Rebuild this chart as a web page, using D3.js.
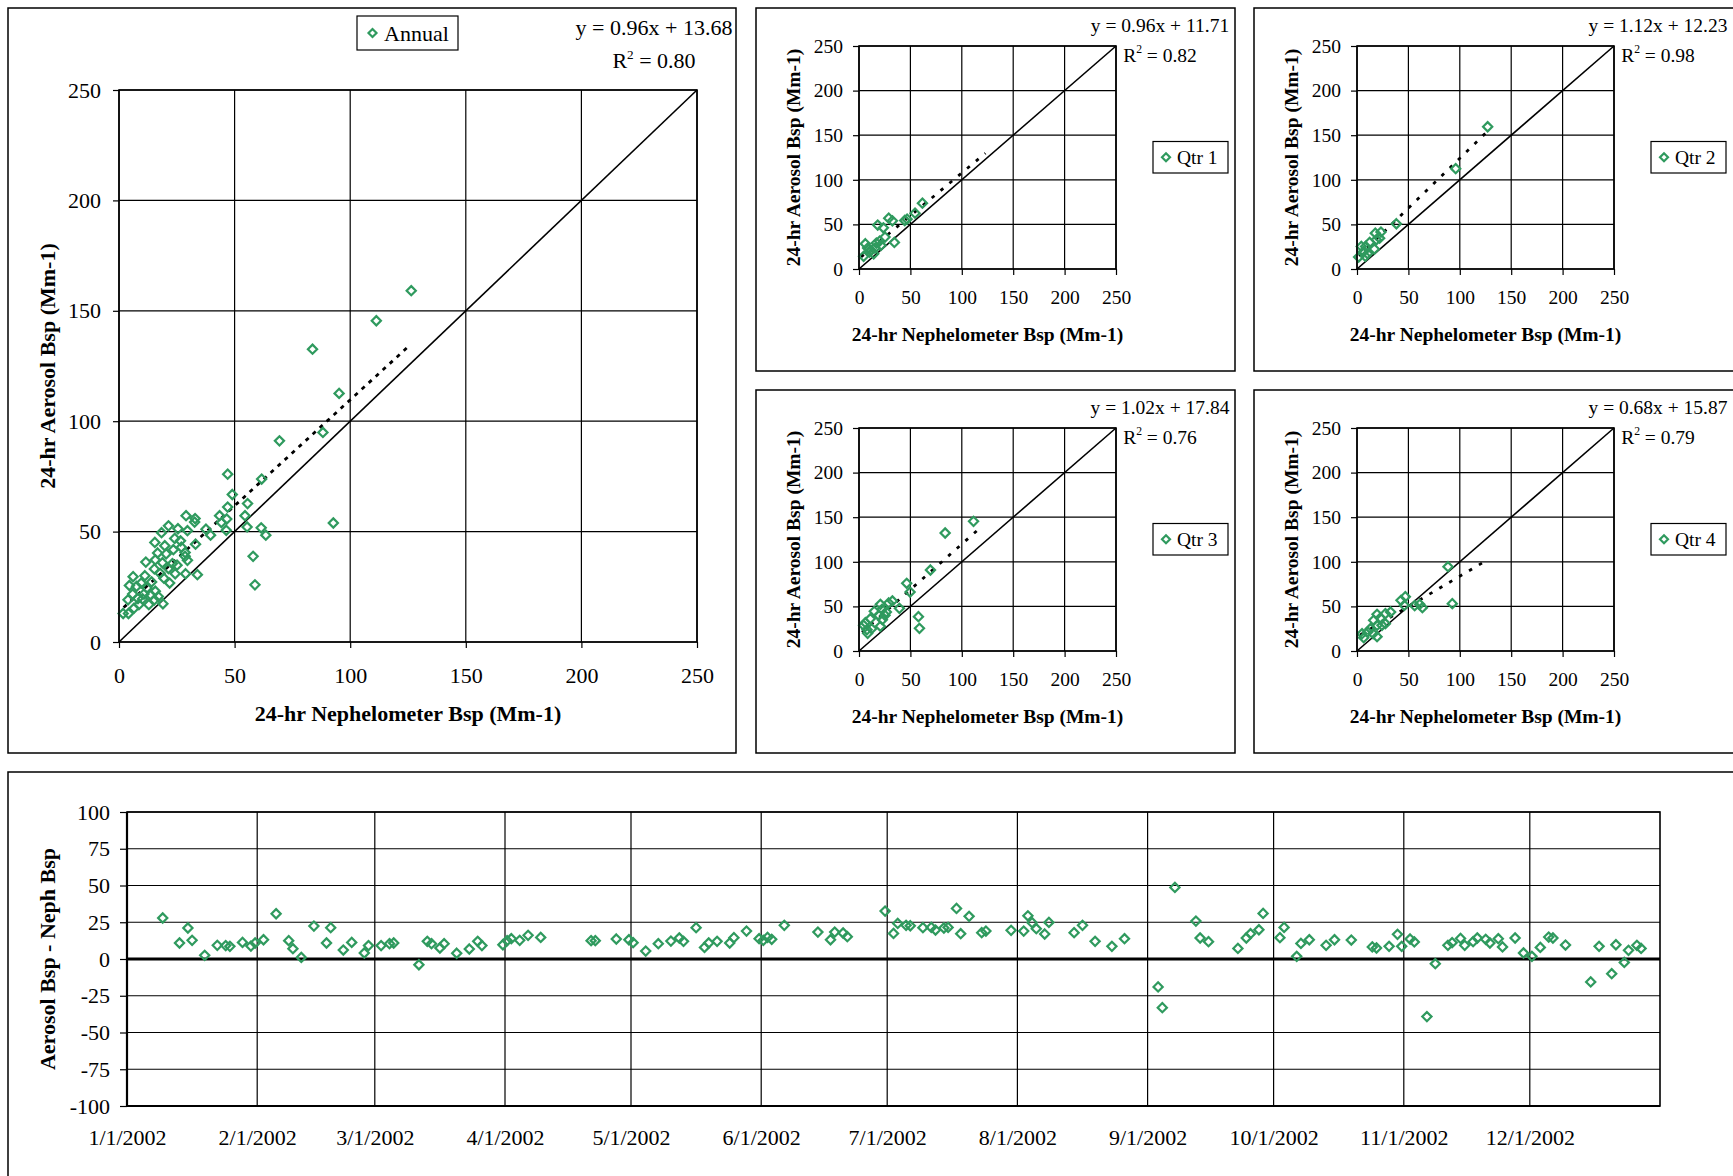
<!DOCTYPE html>
<html>
<head>
<meta charset="utf-8">
<script src="https://cdn.jsdelivr.net/npm/d3@7"></script>
<style>
  body { margin: 0; background: #fff; }
  svg { display: block; font-family: "Liberation Serif", "Times New Roman", serif; }
</style>
</head>
<body>
<div id="chart"></div>
<script>
// ---- data ----
var annualNeph = [126.4,111.3,83.7,95.2,88.2,69.4,92.7,47.0,61.7,49.0,55.6,47.0,43.5,54.5,46.6,44.3,55.4,61.5,46.4,63.5,58.0,58.8,37.6,39.6,29.0,32.9,32.7,29.6,33.1,33.9,28.8,29.6,28.6,25.5,21.4,18.4,15.5,26.6,24.1,27.0,23.5,19.8,16.7,20.4,25.1,24.3,21.9,18.8,15.7,11.6,11.2,15.3,17.8,19.0,14.1,12.1,9.6,7.6,6.1,4.5,3.9,1.8,4.1,6.5,8.6,10.2,12.9,13.7,15.7,17.0,15.3,10.8,5.9,8.2,19.4,21.4,23.1,28.6];
var annualAero = [159.1,145.5,132.6,112.6,94.9,91.1,53.9,76.0,73.8,66.8,62.7,61.1,57.2,57.2,55.7,54.1,52.1,51.7,50.6,48.4,38.8,25.9,51.1,48.4,57.2,55.9,54.3,50.4,44.3,30.5,30.9,37.0,38.8,51.3,52.6,49.5,45.1,45.8,46.9,42.9,41.8,43.6,40.3,39.9,34.8,30.9,26.7,35.9,37.2,36.2,30.0,33.1,31.1,17.3,27.2,24.5,26.7,25.2,29.6,25.6,19.1,12.9,12.9,15.3,16.9,19.5,16.9,21.3,23.0,20.6,19.1,21.7,21.7,19.7,28.9,33.3,35.5,40.5];

var q1Neph = [61.7,54.5,44.5,46.8,28.9,32.5,18.2,23.7,25.3,34.4,20.1,16.9,21.4,6.2,8.4,11.7,14.3,4.5,10.1,15.6];
var q1Aero = [73.8,62.6,54.4,55.9,57.0,54.0,49.2,46.2,35.8,29.8,31.3,29.1,26.5,28.3,23.5,20.9,17.1,14.2,19.0,23.5];
var q2Neph = [127.1,96.0,38.3,23.3,17.8,22.0,18.8,12.3,16.9,8.4,4.2,6.5,1.6,8.1,10.4];
var q2Aero = [159.5,112.5,50.7,41.4,40.2,34.6,32.8,29.8,22.4,25.3,25.3,19.7,13.4,14.2,17.1];
var q3Neph = [111.4,83.8,69.5,46.4,49.7,32.5,28.9,39.3,57.8,58.8,20.8,14.9,22.4,26.6,25.3,19.2,22.7,11.0,20.8,4.5,7.8,12.3,8.4,6.2];
var q3Aero = [145.4,132.3,90.8,75.9,66.1,56.1,53.8,47.8,38.5,25.4,52.3,44.5,46.7,43.7,40.0,40.0,35.1,36.2,27.7,28.8,23.9,25.0,19.8,31.8];
var q4Neph = [88.5,92.7,63.6,61.0,56.1,47.0,42.8,46.0,32.7,27.6,19.5,16.2,22.7,27.6,24.3,19.5,13.0,10.4,6.5,4.9,15.6,19.5];
var q4Aero = [94.5,53.1,48.6,52.3,50.8,60.9,56.8,51.2,43.7,41.9,41.1,34.4,37.0,30.6,28.8,16.1,25.0,21.3,14.9,19.4,19.4,28.8];

var seriesNames  = ["Annual", "Qtr 1", "Qtr 2", "Qtr 3", "Qtr 4"];
var fitSlope     = [0.96, 0.96, 1.12, 1.02, 0.68];
var fitIntercept = [13.68, 11.71, 12.23, 17.84, 15.87];
var fitR2        = ["0.80", "0.82", "0.98", "0.76", "0.79"];
var fitXRange    = [[2, 126], [2, 123], [2, 126], [3, 119], [3, 124]];
var scatterTicks = [0, 50, 100, 150, 200, 250];

var diffDates = ["1/9","1/13","1/15","1/16","1/19","1/22","1/24","1/25","1/28","1/30","1/31",
  "2/2","2/5","2/8","2/9","2/11","2/14","2/17","2/18","2/21","2/23","2/26","2/27",
  "3/2","3/4","3/5","3/11","3/13","3/14","3/16","3/17","3/20","3/23","3/25","3/26","3/31",
  "4/1","4/2","4/4","4/6","4/9","4/21","4/22","4/27","4/30",
  "5/1","5/4","5/7","5/10","5/12","5/13","5/16","5/18","5/19","5/21","5/24","5/25","5/28","5/31",
  "6/1","6/2","6/3","6/6","6/14","6/17","6/18","6/20","6/21","6/30",
  "7/2","7/3","7/5","7/6","7/9","7/11","7/12","7/14","7/15","7/17","7/18","7/20","7/23","7/24","7/30",
  "8/2","8/3","8/4","8/5","8/7","8/8","8/14","8/16","8/19","8/23","8/26",
  "9/3","9/4","9/7","9/12","9/13","9/15","9/22","9/24","9/25","9/27","9/28",
  "10/2","10/3","10/6","10/7","10/9","10/13","10/15","10/19","10/24","10/25","10/28","10/30","10/31",
  "11/2","11/3","11/6","11/8","11/11","11/12","11/14","11/15","11/17","11/18","11/20","11/21","11/23","11/24","11/27","11/29",
  "12/1","12/3","12/5","12/6","12/9","12/15","12/17","12/20","12/21","12/23","12/24","12/26","12/27"];
var diffValues = [27.9,10.9,21.1,12.7,2.5,9.3,9.1,8.6,11.3,8.8,10.9,
  13.1,30.8,12.5,7.0,1.1,22.4,10.9,21.3,6.1,11.3,4.1,9.1,
  9.1,10.4,10.9,-3.9,12.0,10.4,7.5,10.4,3.9,6.8,12.0,9.1,9.7,
  12.5,13.8,12.7,16.1,14.7,12.5,12.5,13.6,13.1,
  11.1,5.4,10.4,12.2,14.3,12.0,21.3,7.9,10.9,12.0,10.9,14.5,19.0,13.8,
  12.7,14.7,13.4,22.9,18.3,13.1,18.3,17.7,15.2,32.6,
  17.4,24.2,22.9,22.6,21.3,21.5,19.7,21.1,21.5,34.4,17.2,29.0,17.9,19.0,19.5,
  19.0,29.4,24.7,20.6,17.0,24.9,17.9,22.9,12.0,8.6,13.8,
  -19.0,-33.1,48.7,25.8,14.3,11.8,7.2,14.3,17.2,19.9,31.0,
  14.5,21.5,1.8,10.6,13.1,9.3,13.1,12.9,8.2,7.5,8.6,16.8,8.6,
  13.6,11.6,-39.2,-3.2,9.3,11.1,14.0,9.3,11.8,14.3,13.4,10.9,13.8,8.2,14.3,4.1,
  1.8,7.9,14.9,14.3,9.5,-15.6,8.6,-10.0,9.7,-2.3,5.9,9.3,7.2];
var diffTicks = [100, 75, 50, 25, 0, -25, -50, -75, -100];
var diffYear = 2002;

// ---- setup ----
var width = 1733, height = 1176;
var green = "#2f9a5e";
var markerR = 4.6, markerW = 2.2;

var svg = d3.select("#chart").append("svg")
    .attr("width", width)
    .attr("height", height);

function diamond(r) {
  return "M0," + (-r) + "L" + r + ",0L0," + r + "L" + (-r) + ",0Z";
}

// plain hyphen for negatives, like the original
var plainNum = function (d) { return String(d); };

function styleAxis(sel, fs) {
  sel.attr("font-family", null).attr("font-size", fs + "px");
  sel.select(".domain").remove();
  sel.selectAll(".tick line").attr("stroke", "#000").attr("stroke-width", 1.2);
  sel.selectAll(".tick text").attr("fill", "#000");
}

// one scatter panel: aerosol vs nephelometer
function drawScatter(p, xs, ys, i) {
  var g = svg.append("g");

  g.append("rect")
    .attr("x", p.fx).attr("y", p.fy)
    .attr("width", p.fw).attr("height", p.fh)
    .attr("fill", "none").attr("stroke", "#000").attr("stroke-width", 1.5);

  var x = d3.scaleLinear().domain([0, 250]).range([p.px, p.px + p.pw]);
  var y = d3.scaleLinear().domain([0, 250]).range([p.py + p.ph, p.py]);

  // grid
  g.append("g").selectAll("line").data(scatterTicks).join("line")
    .attr("x1", d => x(d)).attr("x2", d => x(d))
    .attr("y1", p.py).attr("y2", p.py + p.ph)
    .attr("stroke", "#000").attr("stroke-width", 1.2);
  g.append("g").selectAll("line").data(scatterTicks).join("line")
    .attr("y1", d => y(d)).attr("y2", d => y(d))
    .attr("x1", p.px).attr("x2", p.px + p.pw)
    .attr("stroke", "#000").attr("stroke-width", 1.2);

  // axes
  var ax = g.append("g").attr("transform", "translate(0," + (p.py + p.ph) + ")")
    .call(d3.axisBottom(x).tickValues(scatterTicks).tickFormat(plainNum).tickSize(6).tickPadding(p.padX));
  styleAxis(ax, p.fs);
  var ay = g.append("g").attr("transform", "translate(" + p.px + ",0)")
    .call(d3.axisLeft(y).tickValues(scatterTicks).tickFormat(plainNum).tickSize(6).tickPadding(p.padY));
  styleAxis(ay, p.fs);

  // 1:1 line
  g.append("line")
    .attr("x1", x(0)).attr("y1", y(0)).attr("x2", x(250)).attr("y2", y(250))
    .attr("stroke", "#000").attr("stroke-width", 1.6);

  // trend line
  var xr = fitXRange[i];
  g.append("line")
    .attr("x1", x(xr[0])).attr("y1", y(fitSlope[i] * xr[0] + fitIntercept[i]))
    .attr("x2", x(xr[1])).attr("y2", y(fitSlope[i] * xr[1] + fitIntercept[i]))
    .attr("stroke", "#000").attr("stroke-width", 2.8)
    .attr("stroke-dasharray", p.dash);

  // points
  g.append("g").selectAll("path").data(xs).join("path")
    .attr("d", diamond(markerR))
    .attr("transform", (d, k) => "translate(" + x(d) + "," + y(ys[k]) + ")")
    .attr("fill", "none").attr("stroke", green).attr("stroke-width", markerW);

  // plot border
  g.append("rect")
    .attr("x", p.px).attr("y", p.py).attr("width", p.pw).attr("height", p.ph)
    .attr("fill", "none").attr("stroke", "#000").attr("stroke-width", 1.6);

  // axis titles
  g.append("text")
    .attr("x", p.px + p.pw / 2).attr("y", p.xTitleY)
    .attr("text-anchor", "middle").attr("font-weight", "bold")
    .attr("font-size", p.fs + "px")
    .text("24-hr Nephelometer Bsp (Mm-1)");
  g.append("text")
    .attr("transform", "translate(" + p.yTitleX + "," + (p.py + p.ph / 2) + ") rotate(-90)")
    .attr("dy", "0.35em")
    .attr("text-anchor", "middle").attr("font-weight", "bold")
    .attr("font-size", p.fs + "px")
    .text("24-hr Aerosol Bsp (Mm-1)");

  // regression label
  g.append("text")
    .attr("x", p.eqX).attr("y", p.eqY)
    .attr("text-anchor", "middle").attr("font-size", p.fs + "px")
    .text("y = " + fitSlope[i].toFixed(2) + "x + " + fitIntercept[i].toFixed(2));
  var r2 = g.append("text")
    .attr("x", p.eqX).attr("y", p.r2Y)
    .attr("text-anchor", "middle").attr("font-size", p.fs + "px");
  r2.append("tspan").text("R");
  r2.append("tspan").attr("dy", -p.fs * 0.42).attr("font-size", (p.fs * 0.6) + "px").text("2");
  r2.append("tspan").attr("dy", p.fs * 0.42).text(" = " + fitR2[i]);

  // legend
  g.append("rect")
    .attr("x", p.lx).attr("y", p.ly).attr("width", p.lw).attr("height", p.lh)
    .attr("fill", "#fff").attr("stroke", "#000").attr("stroke-width", 1.2);
  g.append("path")
    .attr("d", diamond(markerR - 0.6))
    .attr("transform", "translate(" + (p.lx + p.mdx) + "," + (p.ly + p.lh / 2) + ")")
    .attr("fill", "none").attr("stroke", green).attr("stroke-width", markerW);
  g.append("text")
    .attr("x", p.lx + p.tdx).attr("y", p.ly + p.lh / 2)
    .attr("dy", "0.35em").attr("font-size", p.fs + "px")
    .text(seriesNames[i]);
}

// annual panel
drawScatter({
  fx: 8, fy: 8, fw: 728, fh: 745,
  px: 119, py: 90, pw: 578, ph: 552,
  fs: 22, padX: 19, padY: 12,
  xTitleY: 721, yTitleX: 47,
  eqX: 654, eqY: 35, r2Y: 68,
  lx: 357, ly: 16, lw: 101, lh: 34, mdx: 15.5, tdx: 27,
  dash: "4,5.5"
}, annualNeph, annualAero, 0);

// quarter panels
var qNeph = [q1Neph, q2Neph, q3Neph, q4Neph];
var qAero = [q1Aero, q2Aero, q3Aero, q4Aero];
var qOrigin = [[756, 8], [1254, 8], [756, 390], [1254, 390]];
qOrigin.forEach(function (o, k) {
  var fx = o[0], fy = o[1];
  var px = fx + 103, py = fy + 38, pw = 257, ph = 223;
  drawScatter({
    fx: fx, fy: fy, fw: k % 2 ? 490 : 479, fh: 363,
    px: px, py: py, pw: pw, ph: ph,
    fs: 19.5, padX: 15, padY: 10,
    xTitleY: py + ph + 72, yTitleX: px - 66,
    eqX: px + pw + 44, eqY: fy + 23.7, r2Y: fy + 53.5,
    lx: fx + 397, ly: fy + 133.5, lw: 75, lh: 31.5, mdx: 13, tdx: 24,
    dash: "3.5,8"
  }, qNeph[k], qAero[k], k + 1);
});

// ---- bottom: aerosol - neph time series ----
(function () {
  var px = 127, py = 812, pw = 1533, ph = 294;
  var g = svg.append("g");

  g.append("rect")
    .attr("x", 8).attr("y", 772).attr("width", 1740).attr("height", 420)
    .attr("fill", "none").attr("stroke", "#000").attr("stroke-width", 1.5);

  var parse = d3.timeParse("%m/%d/%Y");
  var dates = diffDates.map(d => parse(d + "/" + diffYear));
  var start = new Date(diffYear, 0, 1), end = new Date(diffYear + 1, 0, 1);

  var x = d3.scaleTime().domain([start, end]).range([px, px + pw]);
  var y = d3.scaleLinear().domain([-100, 100]).range([py + ph, py]);
  var months = d3.timeMonth.range(start, end);

  g.append("g").selectAll("line").data(months).join("line")
    .attr("x1", d => x(d)).attr("x2", d => x(d))
    .attr("y1", py).attr("y2", py + ph)
    .attr("stroke", "#000").attr("stroke-width", 1.2);
  g.append("g").selectAll("line").data(diffTicks).join("line")
    .attr("y1", d => y(d)).attr("y2", d => y(d))
    .attr("x1", px).attr("x2", px + pw)
    .attr("stroke", "#000").attr("stroke-width", 1.2);

  var ax = g.append("g").attr("transform", "translate(0," + (py + ph) + ")")
    .call(d3.axisBottom(x).tickValues(months).tickFormat(d3.timeFormat("%-m/%-d/%Y"))
      .tickSize(0).tickPadding(23));
  styleAxis(ax, 22);
  var ay = g.append("g").attr("transform", "translate(" + px + ",0)")
    .call(d3.axisLeft(y).tickValues(diffTicks).tickFormat(plainNum).tickSize(7).tickPadding(10));
  styleAxis(ay, 22);

  // border, thicker axis lines and zero line
  g.append("rect")
    .attr("x", px).attr("y", py).attr("width", pw).attr("height", ph)
    .attr("fill", "none").attr("stroke", "#000").attr("stroke-width", 1.6);
  g.append("line")
    .attr("x1", px).attr("x2", px).attr("y1", py).attr("y2", py + ph)
    .attr("stroke", "#000").attr("stroke-width", 2.2);
  g.append("line")
    .attr("x1", px).attr("x2", px + pw).attr("y1", py + ph).attr("y2", py + ph)
    .attr("stroke", "#000").attr("stroke-width", 2.2);
  g.append("line")
    .attr("x1", px).attr("x2", px + pw).attr("y1", y(0)).attr("y2", y(0))
    .attr("stroke", "#000").attr("stroke-width", 3);

  // points, centred in the middle of each day
  g.append("g").selectAll("path").data(dates).join("path")
    .attr("d", diamond(markerR))
    .attr("transform", (d, k) => "translate(" + x(d3.timeHour.offset(d, 12)) + "," + y(diffValues[k]) + ")")
    .attr("fill", "none").attr("stroke", green).attr("stroke-width", markerW);

  g.append("text")
    .attr("transform", "translate(47," + (py + ph / 2) + ") rotate(-90)")
    .attr("dy", "0.35em")
    .attr("text-anchor", "middle").attr("font-weight", "bold")
    .attr("font-size", "22px")
    .text("Aerosol Bsp - Neph Bsp");
})();
</script>
</body>
</html>
